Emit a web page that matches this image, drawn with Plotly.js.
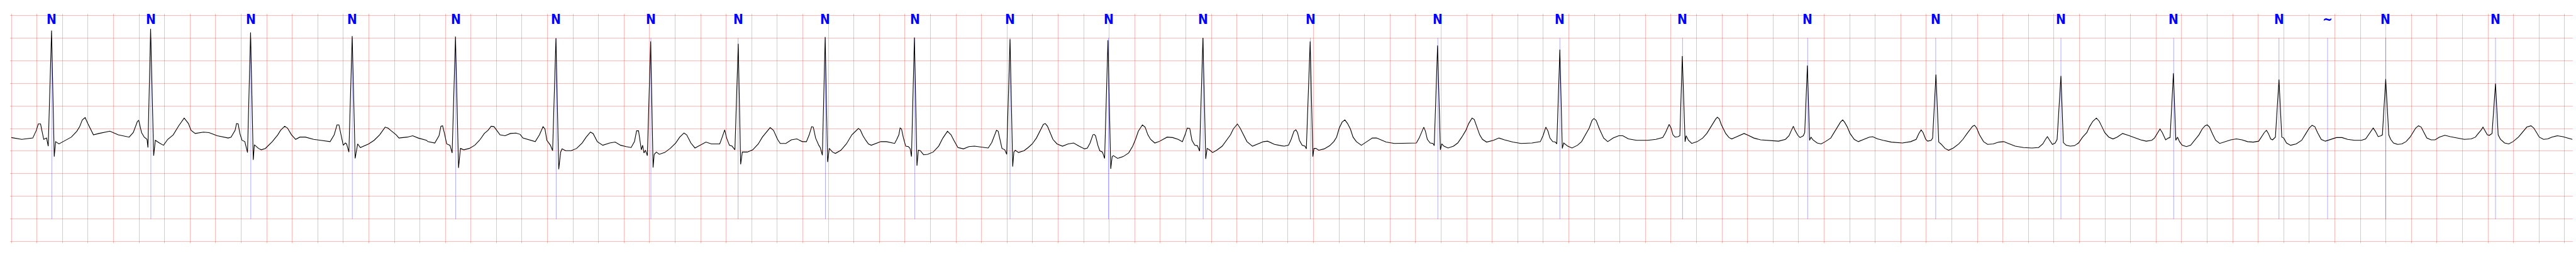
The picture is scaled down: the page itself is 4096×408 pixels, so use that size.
<!DOCTYPE html>
<html>
<head>
<meta charset="utf-8">
<script src="https://cdn.plot.ly/plotly-3.0.1.min.js"></script>
<style>
html,body{margin:0;padding:0;background:#fff;}
#chart{width:4096px;height:408px;}
</style>
</head>
<body>
<div id="chart"></div>
<script>
// Beat annotation times (s) and symbols
const annT = [0.317,1.093,1.876,2.671,3.481,4.268,5.010,5.693,6.377,7.077,7.823,8.594,9.336,10.176,11.174,12.130,13.091,14.071,15.074,16.055,16.938,17.763,18.144,18.599,19.459];
const annSym = ['N','N','N','N','N','N','N','N','N','N','N','N','N','N','N','N','N','N','N','N','N','N','~','N','N'];

// ECG signal readings [time s, mV]
const segA = [[0.000,-0.20],[0.082,-0.24],[0.168,-0.21],[0.196,-0.04],[0.211,0.10],[0.229,0.10],[0.244,-0.11],[0.254,-0.24],[0.276,-0.21],[0.289,-0.39],[0.315,2.16],[0.336,-0.62],[0.347,-0.29],[0.373,-0.34],[0.405,-0.29],[0.470,-0.19],[0.513,-0.06],[0.535,0.04],[0.556,0.19],[0.578,0.24],[0.599,0.11],[0.621,-0.01],[0.643,-0.14],[0.686,-0.11],[0.772,-0.06],[0.837,-0.14],[0.923,-0.19],[0.955,-0.09],[0.988,0.16],[0.998,0.18],[1.020,-0.09],[1.041,-0.19],[1.063,-0.24],[1.070,-0.42],[1.091,2.20],[1.115,-0.60],[1.128,-0.26],[1.160,-0.32],[1.192,-0.37],[1.225,-0.24],[1.268,-0.14],[1.311,0.06],[1.354,0.23],[1.387,0.11],[1.408,-0.04],[1.440,-0.11],[1.505,-0.08],[1.548,-0.09],[1.613,-0.16],[1.699,-0.21],[1.721,-0.19],[1.753,-0.04],[1.764,0.11],[1.777,0.10],[1.790,-0.11],[1.807,-0.26],[1.829,-0.29],[1.850,-0.53],[1.874,2.12],[1.895,-0.69],[1.904,-0.36],[1.936,-0.44],[1.958,-0.47],[1.990,-0.44],[2.044,-0.29],[2.087,-0.14],[2.109,-0.04],[2.141,0.05],[2.163,0.01],[2.195,-0.14],[2.227,-0.24],[2.260,-0.19],[2.303,-0.19],[2.368,-0.24],[2.432,-0.26],[2.497,-0.29],[2.529,-0.14],[2.551,0.08],[2.566,0.08],[2.583,-0.14],[2.600,-0.37],[2.616,-0.32],[2.626,-0.34],[2.644,-0.52],[2.670,2.04],[2.693,-0.66],[2.713,-0.34],[2.734,-0.42],[2.756,-0.39],[2.799,-0.34],[2.842,-0.26],[2.885,-0.14],[2.928,0.03],[2.950,0.01],[2.971,-0.04],[3.015,-0.14],[3.036,-0.21],[3.101,-0.19],[3.144,-0.16],[3.187,-0.21],[3.252,-0.26]];
const segB = [[3.263,-0.29],[3.317,-0.32],[3.350,-0.16],[3.365,0.05],[3.378,0.06],[3.393,-0.11],[3.410,-0.34],[3.436,-0.37],[3.453,-0.54],[3.479,2.03],[3.503,-0.87],[3.518,-0.44],[3.544,-0.47],[3.587,-0.44],[3.630,-0.37],[3.673,-0.24],[3.705,-0.11],[3.734,-0.04],[3.759,0.05],[3.781,0.04],[3.802,-0.04],[3.828,-0.14],[3.867,-0.16],[3.910,-0.11],[3.953,-0.10],[3.986,-0.13],[4.007,-0.21],[4.061,-0.26],[4.104,-0.29],[4.137,-0.14],[4.165,0.04],[4.180,-0.01],[4.195,-0.26],[4.223,-0.37],[4.240,-0.49],[4.266,1.99],[4.288,-0.90],[4.303,-0.52],[4.314,-0.45],[4.342,-0.49],[4.385,-0.49],[4.428,-0.44],[4.471,-0.32],[4.503,-0.19],[4.536,-0.08],[4.557,-0.11],[4.590,-0.29],[4.633,-0.37],[4.687,-0.32],[4.730,-0.30],[4.773,-0.37],[4.816,-0.40],[4.855,-0.42],[4.881,-0.29],[4.898,-0.05],[4.913,-0.05],[4.924,-0.24],[4.935,-0.47],[4.945,-0.37],[4.956,-0.54],[4.967,-0.48],[4.982,-0.60],[5.008,1.92],[5.027,-0.86],[5.036,-0.57],[5.053,-0.52],[5.075,-0.57],[5.118,-0.53],[5.161,-0.44],[5.204,-0.32],[5.236,-0.19],[5.269,-0.10],[5.290,-0.14],[5.323,-0.32],[5.355,-0.43],[5.398,-0.37],[5.441,-0.30],[5.484,-0.34],[5.549,-0.34],[5.566,-0.21],[5.588,-0.03],[5.603,-0.21],[5.625,-0.37],[5.646,-0.39],[5.668,-0.47],[5.694,1.87],[5.713,-0.79],[5.726,-0.52],[5.765,-0.52],[5.808,-0.47],[5.851,-0.34],[5.883,-0.19],[5.911,-0.09],[5.944,0.02],[5.970,-0.04],[6.002,-0.24],[6.023,-0.33],[6.067,-0.33],[6.110,-0.25],[6.153,-0.23],[6.196,-0.29],[6.228,-0.29],[6.250,-0.14],[6.269,0.04],[6.282,0.03],[6.300,-0.21],[6.325,-0.37],[6.336,-0.42],[6.353,-0.59],[6.375,2.02],[6.394,-0.74],[6.407,-0.44],[6.433,-0.52],[6.455,-0.55],[6.498,-0.48],[6.541,-0.34],[6.584,-0.14]];
const segC = [[6.617,-0.05],[6.635,0.00],[6.650,-0.03],[6.671,-0.16],[6.693,-0.26],[6.714,-0.34],[6.736,-0.37],[6.768,-0.34],[6.811,-0.29],[6.855,-0.29],[6.898,-0.32],[6.919,-0.33],[6.936,-0.24],[6.952,-0.14],[6.962,0.01],[6.973,-0.01],[6.988,-0.21],[7.006,-0.39],[7.027,-0.40],[7.040,-0.44],[7.051,-0.62],[7.074,2.01],[7.094,-0.82],[7.105,-0.48],[7.120,-0.49],[7.146,-0.58],[7.178,-0.57],[7.221,-0.52],[7.264,-0.39],[7.297,-0.21],[7.333,-0.06],[7.361,-0.14],[7.383,-0.26],[7.415,-0.42],[7.458,-0.45],[7.501,-0.40],[7.544,-0.39],[7.609,-0.42],[7.652,-0.43],[7.680,-0.31],[7.702,-0.14],[7.717,-0.04],[7.730,-0.06],[7.745,-0.26],[7.760,-0.44],[7.782,-0.47],[7.797,-0.57],[7.823,1.97],[7.844,-0.84],[7.853,-0.52],[7.864,-0.48],[7.889,-0.53],[7.933,-0.49],[7.965,-0.42],[7.997,-0.34],[8.030,-0.21],[8.051,-0.09],[8.084,0.09],[8.099,0.11],[8.116,0.05],[8.137,-0.09],[8.159,-0.24],[8.191,-0.34],[8.234,-0.39],[8.278,-0.34],[8.321,-0.32],[8.364,-0.39],[8.407,-0.45],[8.429,-0.43],[8.450,-0.32],[8.472,-0.14],[8.482,-0.13],[8.493,-0.16],[8.511,-0.37],[8.526,-0.49],[8.547,-0.52],[8.564,-0.66],[8.590,1.95],[8.612,-0.89],[8.623,-0.62],[8.633,-0.60],[8.666,-0.66],[8.709,-0.62],[8.752,-0.54],[8.784,-0.39],[8.806,-0.24],[8.828,-0.06],[8.860,0.08],[8.881,0.03],[8.903,-0.14],[8.924,-0.24],[8.957,-0.32],[8.989,-0.29],[9.022,-0.24],[9.054,-0.19],[9.097,-0.20],[9.140,-0.24],[9.173,-0.29],[9.194,-0.14],[9.211,0.01],[9.231,0.00],[9.248,-0.26],[9.270,-0.37],[9.291,-0.38],[9.308,-0.50],[9.334,2.00],[9.356,-0.67],[9.367,-0.44],[9.384,-0.47],[9.410,-0.53],[9.442,-0.48],[9.485,-0.39],[9.518,-0.26],[9.550,-0.14],[9.572,-0.01],[9.604,0.10],[9.625,0.01],[9.647,-0.11],[9.679,-0.29],[9.722,-0.39],[9.765,-0.34],[9.809,-0.29],[9.841,-0.28],[9.895,-0.35],[9.949,-0.38]];
const segD = [[9.971,-0.39],[10.004,-0.37],[10.025,-0.24],[10.047,-0.06],[10.062,-0.03],[10.075,-0.09],[10.090,-0.26],[10.111,-0.37],[10.133,-0.39],[10.144,-0.45],[10.174,1.92],[10.195,-0.62],[10.204,-0.44],[10.219,-0.44],[10.241,-0.48],[10.284,-0.45],[10.327,-0.38],[10.359,-0.29],[10.381,-0.19],[10.402,0.01],[10.424,0.14],[10.446,0.19],[10.467,0.11],[10.489,-0.01],[10.510,-0.19],[10.536,-0.29],[10.575,-0.37],[10.618,-0.29],[10.661,-0.21],[10.694,-0.21],[10.726,-0.25],[10.769,-0.30],[10.834,-0.33],[10.920,-0.33],[11.006,-0.32],[11.028,-0.21],[11.049,-0.06],[11.064,0.03],[11.077,-0.06],[11.092,-0.24],[11.114,-0.32],[11.136,-0.33],[11.146,-0.38],[11.172,1.83],[11.194,-0.47],[11.205,-0.34],[11.222,-0.39],[11.254,-0.43],[11.297,-0.39],[11.330,-0.32],[11.362,-0.19],[11.394,-0.04],[11.416,0.11],[11.442,0.23],[11.459,0.20],[11.481,0.01],[11.502,-0.14],[11.524,-0.24],[11.556,-0.30],[11.610,-0.26],[11.653,-0.21],[11.696,-0.25],[11.761,-0.30],[11.826,-0.33],[11.912,-0.32],[11.977,-0.29],[11.998,-0.16],[12.020,0.03],[12.037,-0.06],[12.052,-0.21],[12.074,-0.29],[12.095,-0.30],[12.106,-0.34],[12.130,1.74],[12.149,-0.44],[12.160,-0.32],[12.192,-0.39],[12.225,-0.43],[12.268,-0.37],[12.300,-0.29],[12.332,-0.14],[12.360,0.01],[12.382,0.18],[12.397,0.22],[12.414,0.18],[12.440,-0.01],[12.473,-0.21],[12.505,-0.29],[12.548,-0.21],[12.591,-0.16],[12.623,-0.16],[12.667,-0.23],[12.731,-0.26],[12.818,-0.26],[12.882,-0.24],[12.936,-0.20],[12.958,-0.09],[12.986,0.09],[13.001,0.01],[13.016,-0.14],[13.033,-0.19],[13.055,-0.18],[13.070,-0.16],[13.089,1.60],[13.111,-0.29],[13.119,-0.16],[13.137,-0.26],[13.163,-0.33],[13.206,-0.29],[13.249,-0.21],[13.281,-0.11],[13.313,0.04]];
const segE = [[13.325,0.08],[13.336,0.14],[13.351,0.21],[13.364,0.25],[13.379,0.21],[13.394,0.09],[13.411,-0.01],[13.429,-0.11],[13.455,-0.20],[13.476,-0.23],[13.508,-0.19],[13.552,-0.13],[13.573,-0.11],[13.605,-0.15],[13.649,-0.21],[13.702,-0.25],[13.756,-0.26],[13.843,-0.28],[13.897,-0.24],[13.925,-0.16],[13.944,-0.04],[13.959,0.05],[13.972,-0.04],[13.994,-0.15],[14.011,-0.20],[14.037,-0.16],[14.048,-0.09],[14.069,1.39],[14.086,-0.26],[14.097,-0.19],[14.112,-0.25],[14.145,-0.32],[14.177,-0.34],[14.209,-0.29],[14.252,-0.21],[14.285,-0.06],[14.306,0.04],[14.328,0.14],[14.345,0.19],[14.360,0.14],[14.382,0.03],[14.403,-0.11],[14.436,-0.24],[14.468,-0.29],[14.511,-0.24],[14.554,-0.19],[14.580,-0.18],[14.619,-0.23],[14.662,-0.26],[14.727,-0.30],[14.813,-0.32],[14.878,-0.29],[14.921,-0.24],[14.942,-0.11],[14.960,-0.03],[14.975,-0.09],[14.996,-0.24],[15.011,-0.28],[15.039,-0.26],[15.050,-0.21],[15.076,1.19],[15.098,-0.30],[15.115,-0.34],[15.147,-0.44],[15.175,-0.48],[15.212,-0.43],[15.255,-0.34],[15.287,-0.24],[15.320,-0.11],[15.341,-0.03],[15.363,0.05],[15.378,0.07],[15.395,0.01],[15.417,-0.14],[15.449,-0.29],[15.481,-0.35],[15.524,-0.34],[15.568,-0.30],[15.607,-0.29],[15.643,-0.33],[15.697,-0.39],[15.762,-0.42],[15.827,-0.43],[15.880,-0.42],[15.913,-0.34],[15.934,-0.24],[15.949,-0.18],[15.967,-0.26],[15.988,-0.35],[16.010,-0.32],[16.025,-0.24],[16.055,1.16],[16.074,-0.31],[16.096,-0.37],[16.128,-0.39],[16.161,-0.38],[16.193,-0.32],[16.225,-0.19],[16.258,-0.09],[16.279,0.04],[16.305,0.16],[16.333,0.23],[16.355,0.16],[16.376,0.04],[16.398,-0.09],[16.430,-0.19],[16.463,-0.23],[16.495,-0.19],[16.538,-0.11],[16.581,-0.15],[16.624,-0.19],[16.668,-0.24]];
const segF = [[16.679,-0.25],[16.723,-0.28],[16.766,-0.26],[16.788,-0.21],[16.810,-0.11],[16.831,-0.01],[16.849,-0.09],[16.864,-0.19],[16.875,-0.25],[16.897,-0.21],[16.910,-0.20],[16.936,1.22],[16.955,-0.26],[16.968,-0.19],[16.984,-0.29],[17.005,-0.37],[17.038,-0.40],[17.071,-0.37],[17.103,-0.26],[17.136,-0.14],[17.162,-0.01],[17.184,0.06],[17.201,0.08],[17.219,0.03],[17.241,-0.11],[17.267,-0.26],[17.299,-0.33],[17.343,-0.29],[17.386,-0.25],[17.430,-0.23],[17.473,-0.25],[17.517,-0.29],[17.561,-0.30],[17.604,-0.28],[17.626,-0.19],[17.648,-0.09],[17.665,-0.04],[17.680,-0.11],[17.698,-0.23],[17.713,-0.25],[17.735,-0.19],[17.763,1.08],[17.785,-0.19],[17.800,-0.21],[17.822,-0.32],[17.854,-0.37],[17.898,-0.34],[17.941,-0.26],[17.974,-0.11],[18.000,0.01],[18.022,0.07],[18.044,0.04],[18.065,-0.09],[18.094,-0.24],[18.126,-0.28],[18.170,-0.24],[18.213,-0.20],[18.257,-0.20],[18.301,-0.24],[18.355,-0.26],[18.409,-0.26],[18.442,-0.23],[18.464,-0.14],[18.486,-0.04],[18.501,0.01],[18.518,-0.06],[18.540,-0.18],[18.562,-0.16],[18.573,-0.14],[18.599,1.09],[18.623,-0.14],[18.638,-0.24],[18.660,-0.32],[18.692,-0.35],[18.725,-0.34],[18.758,-0.29],[18.790,-0.19],[18.812,-0.09],[18.834,0.01],[18.856,0.06],[18.877,0.03],[18.899,-0.09],[18.921,-0.21],[18.954,-0.25],[18.986,-0.25],[19.019,-0.19],[19.062,-0.15],[19.106,-0.18],[19.160,-0.21],[19.215,-0.24],[19.269,-0.23],[19.302,-0.19],[19.324,-0.11],[19.345,-0.04],[19.361,0.03],[19.378,-0.06],[19.395,-0.14],[19.411,-0.15],[19.432,-0.11],[19.459,0.99],[19.480,-0.14],[19.498,-0.24],[19.530,-0.32],[19.563,-0.34],[19.596,-0.29],[19.639,-0.19],[19.672,-0.08],[19.704,0.03],[19.737,0.06],[19.759,0.01],[19.781,-0.09],[19.802,-0.19],[19.835,-0.24],[19.868,-0.23],[19.900,-0.19],[19.944,-0.16],[19.987,-0.18],[20.031,-0.21],[20.061,-0.24]];

const annLineTop = 2.0, annLineBottom = -2.0;

const signal = [].concat(segA, segB, segC, segD, segE, segF);

const lx = [], ly = [];
annT.forEach(t => { lx.push(t, t, null); ly.push(annLineTop, annLineBottom, null); });

const traces = [
  {type:'scatter', mode:'lines', x:lx, y:ly, line:{color:'rgba(0,0,255,0.55)', width:0.6}, hoverinfo:'skip', showlegend:false},
  {type:'scatter', mode:'lines', x:signal.map(p=>p[0]), y:signal.map(p=>p[1]), line:{color:'#000000', width:1.1}, hoverinfo:'skip', showlegend:false}
];

const annotations = annT.map((t,i) => ({
  x:t, xref:'x', y:1, yref:'paper', xanchor:'center', yanchor:'top', yshift:5,
  text:annSym[i], showarrow:false,
  font:{family:'"Liberation Sans Narrow", "DejaVu Sans Condensed", "Liberation Sans", sans-serif', size:21, color:'#0000ff', weight:'bold'}
}));

const gridStyle = {showgrid:true, gridcolor:'rgba(255,0,0,0.27)', gridwidth:1, zeroline:false, showticklabels:false, ticks:'', showline:false, fixedrange:true};

const layout = {
  width:4096, height:408,
  margin:{l:16.35, r:5.45, t:21.78, b:21.78, pad:0},
  paper_bgcolor:'#ffffff', plot_bgcolor:'#ffffff',
  showlegend:false,
  xaxis:Object.assign({range:[-0.01, 20.065], tick0:0, dtick:0.2}, gridStyle),
  yaxis:Object.assign({range:[-2.53, 2.53], tick0:0, dtick:0.5}, gridStyle),
  annotations:annotations
};

Plotly.newPlot('chart', traces, layout, {staticPlot:true, displayModeBar:false});
</script>
</body>
</html>
